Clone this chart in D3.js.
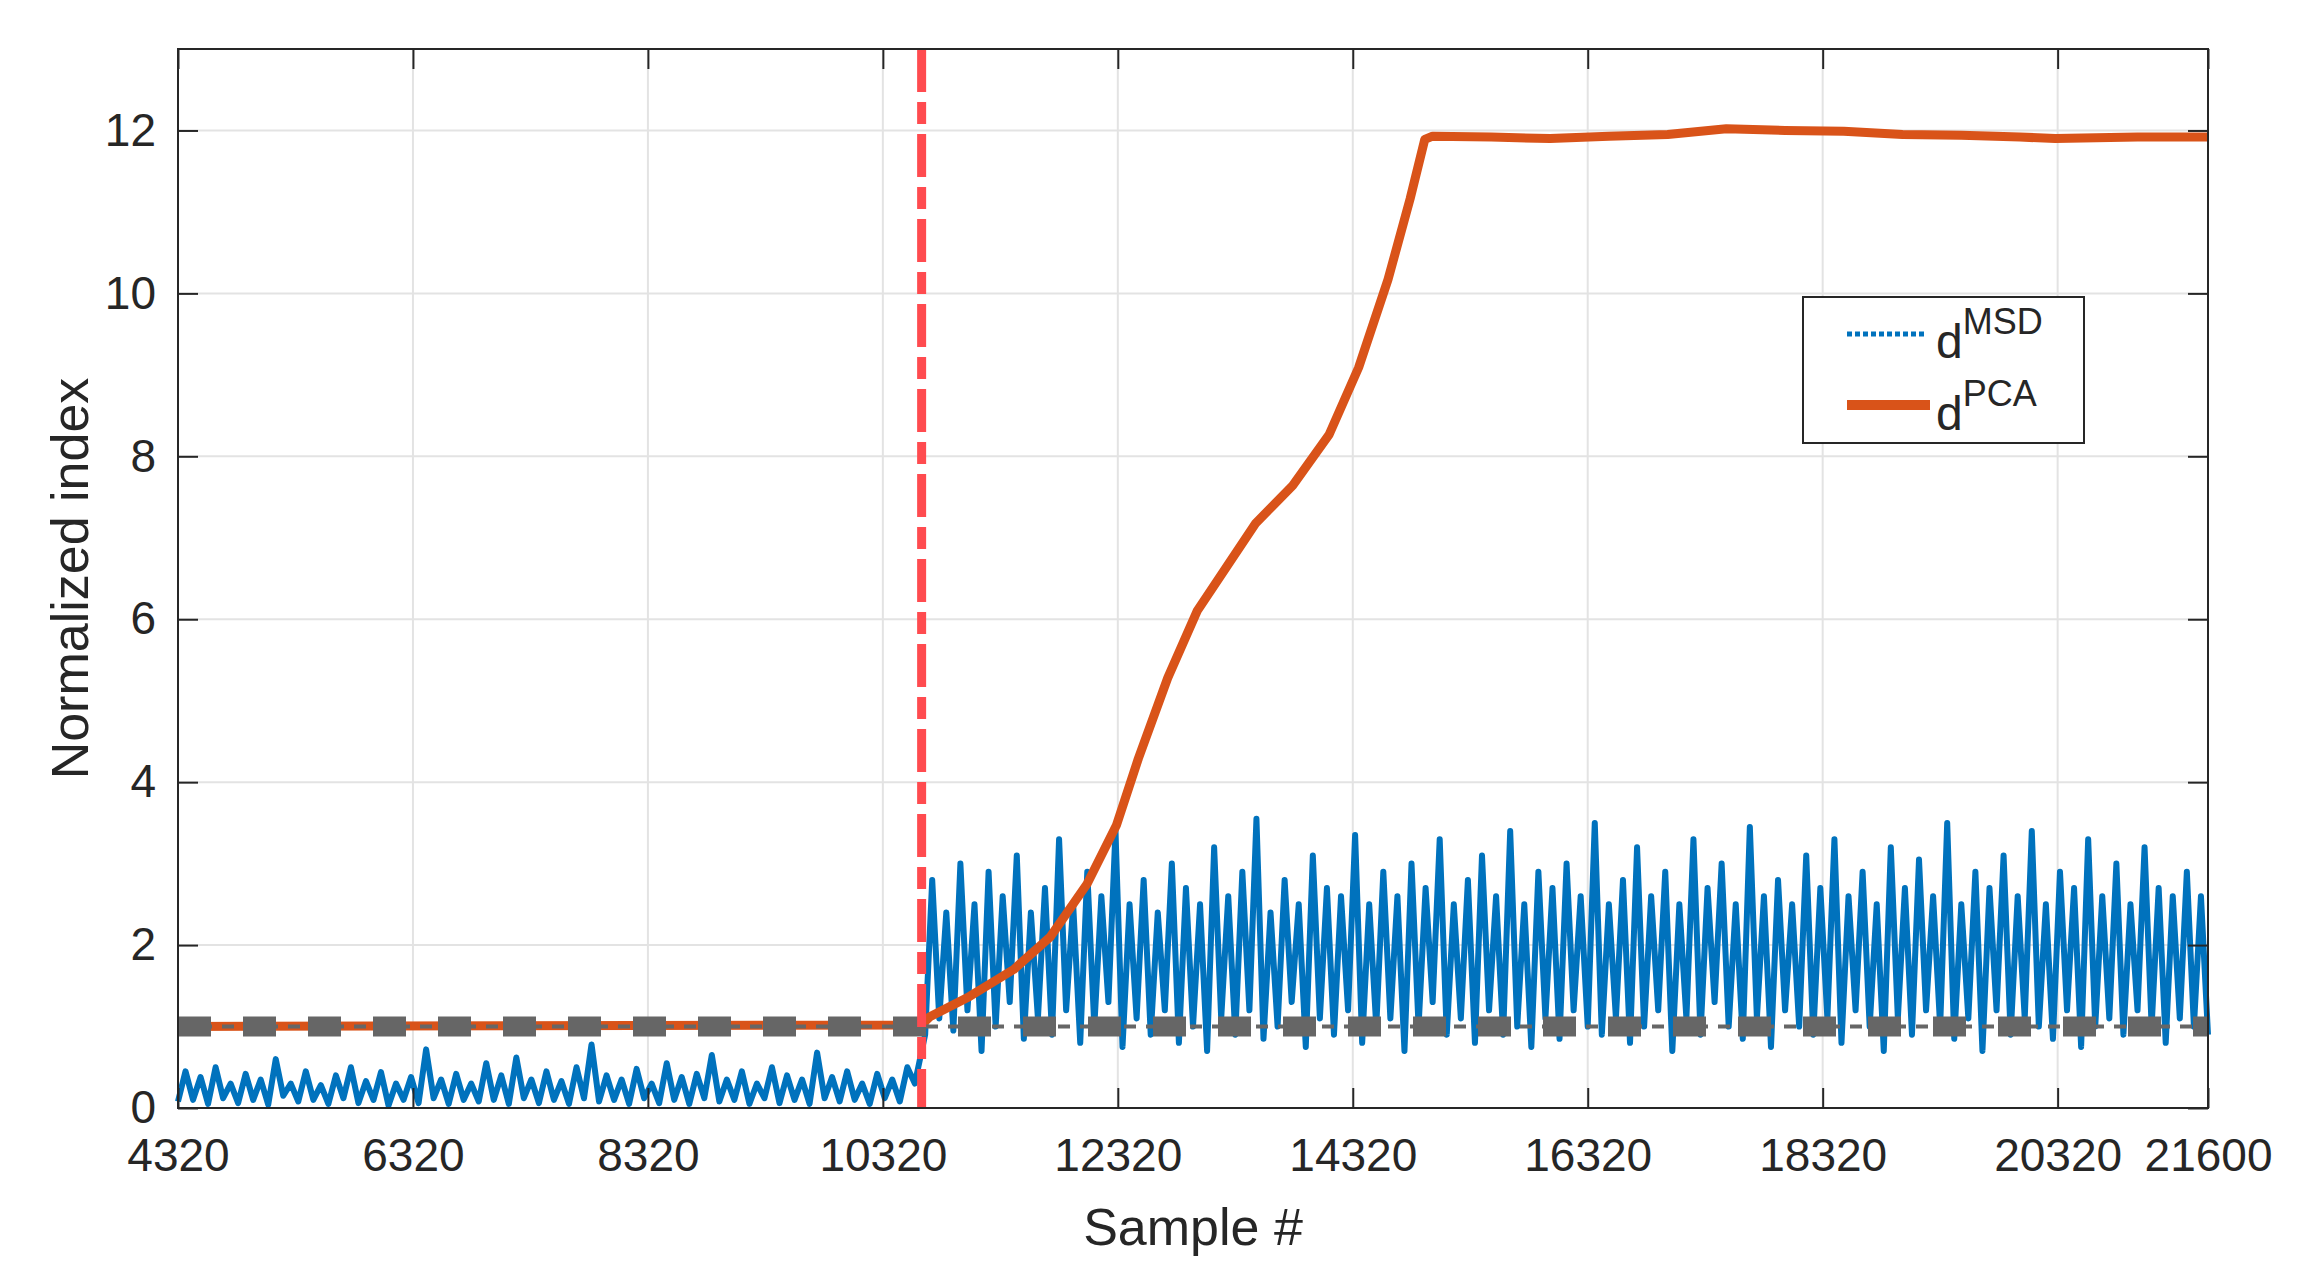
<!DOCTYPE html>
<html>
<head>
<meta charset="utf-8">
<script src="https://cdn.jsdelivr.net/npm/d3@7"></script>
<style>
  body { margin: 0; background: #fff; }
  text { font-family: "Liberation Sans", Arial, sans-serif; fill: #262626; }
</style>
</head>
<body>
<div id="chart"></div>
<script>
var width = 2304, height = 1273;
var margin = {top: 49, right: 96, bottom: 165, left: 178};

// tick labels
var xTicks = [4320, 6320, 8320, 10320, 12320, 14320, 16320, 18320, 20320, 21600];
var yTicks = [0, 2, 4, 6, 8, 10, 12];

// fault onset and threshold
var onset = 10650;
var threshold = 1.0;

// d^MSD before onset (step 64 from 4320)
var msdPre = [0.08,0.45,0.1,0.38,0.05,0.5,0.12,0.3,0.06,0.42,0.1,0.35,0.04,0.6,0.15,0.3,0.08,0.45,0.1,0.28,
  0.05,0.4,0.12,0.5,0.06,0.33,0.1,0.44,0.03,0.3,0.1,0.38,0.06,0.72,0.12,0.35,0.05,0.42,0.1,0.3,
  0.08,0.55,0.1,0.4,0.05,0.62,0.12,0.35,0.06,0.45,0.1,0.33,0.05,0.5,0.12,0.78,0.08,0.4,0.1,0.35,
  0.05,0.48,0.12,0.3,0.06,0.55,0.1,0.38,0.05,0.42,0.12,0.65,0.08,0.35,0.1,0.45,0.05,0.3,0.12,0.5,
  0.06,0.4,0.1,0.35,0.05,0.68,0.12,0.38,0.08,0.45,0.1,0.3,0.05,0.42,0.12,0.35,0.08,0.5,0.3];

// d^MSD after onset (step 60 from 10680)
var msdPost = [0.9,2.8,1.1,2.4,0.95,3.0,1.2,2.5,0.7,2.9,
  1.0,2.6,1.3,3.1,0.85,2.4,1.1,2.7,0.9,3.3,
  1.2,2.5,0.8,2.9,1.0,2.6,1.3,3.4,0.75,2.5,
  1.1,2.8,0.9,2.4,1.2,3.0,0.8,2.7,1.0,2.5,
  0.7,3.2,1.1,2.6,0.9,2.9,1.2,3.55,0.85,2.4,
  1.0,2.8,1.3,2.5,0.75,3.1,1.1,2.7,0.9,2.6,
  1.2,3.35,0.8,2.5,1.0,2.9,1.1,2.6,0.7,3.0,
  1.0,2.7,1.3,3.3,0.9,2.5,1.1,2.8,0.8,3.1,
  1.2,2.6,0.9,3.4,1.0,2.5,0.75,2.9,1.1,2.7,
  0.85,3.0,1.2,2.6,1.0,3.5,0.9,2.5,1.1,2.8,
  0.8,3.2,1.0,2.6,1.2,2.9,0.7,2.5,1.1,3.3,
  0.9,2.7,1.3,3.0,1.0,2.5,0.85,3.45,1.1,2.6,
  0.75,2.8,1.2,2.5,1.0,3.1,0.9,2.7,1.1,3.3,
  0.8,2.6,1.2,2.9,1.0,2.5,0.7,3.2,1.1,2.7,
  0.9,3.05,1.2,2.6,1.0,3.5,0.85,2.5,1.1,2.9,
  0.7,2.7,1.2,3.1,0.9,2.6,1.1,3.4,1.0,2.5,
  0.85,2.9,1.2,2.7,0.75,3.3,1.0,2.6,1.1,3.0,
  0.9,2.5,1.2,3.2,1.0,2.7,0.8,2.6,1.1,2.9,
  1.0,2.6,0.9];

// d^PCA
var pcaX = [4320, 10650, 10720, 11058, 11433, 11745, 12058, 12308, 12495, 12745, 12995, 13245, 13495, 13808,
  14120, 14370, 14620, 14808, 14933, 15000, 15500, 16000, 16500, 17000, 17500, 18000, 18500, 19000,
  19500, 20000, 20300, 21000, 21600];
var pcaY = [1.0, 1.02, 1.12, 1.37, 1.70, 2.10, 2.75, 3.47, 4.29, 5.28, 6.1, 6.64, 7.18, 7.64,
  8.27, 9.09, 10.17, 11.16, 11.89, 11.93, 11.92, 11.90, 11.93, 11.95, 12.02, 12.0, 11.99, 11.95,
  11.94, 11.92, 11.90, 11.92, 11.92];

var msd = msdPre.map(function(v, i) { return [4320 + i * 64, v]; })
  .concat(msdPost.map(function(v, i) { return [10680 + i * 60, v]; }));
var pca = pcaX.map(function(x, i) { return [x, pcaY[i]]; });

var iw = width - margin.left - margin.right,
    ih = 1108 - margin.top;

var svg = d3.select("#chart").append("svg")
    .attr("width", width).attr("height", height);
var g = svg.append("g").attr("transform", "translate(" + margin.left + "," + margin.top + ")");

var x = d3.scaleLinear().domain([4320, 21600]).range([0, iw]);
var y = d3.scaleLinear().domain([0, 13]).range([ih, 0]);

// grid
g.selectAll(".gx").data(xTicks).enter().append("line")
  .attr("x1", x).attr("x2", x).attr("y1", 0).attr("y2", ih)
  .attr("stroke", "#e3e3e3").attr("stroke-width", 2);
g.selectAll(".gy").data(yTicks).enter().append("line")
  .attr("y1", y).attr("y2", y).attr("x1", 0).attr("x2", iw)
  .attr("stroke", "#e3e3e3").attr("stroke-width", 2);

var line = d3.line().x(function(d) { return x(d[0]); }).y(function(d) { return y(d[1]); });

g.append("path").datum(msd).attr("d", line)
  .attr("fill", "none").attr("stroke", "#0072bd").attr("stroke-width", 6)
  .attr("stroke-linejoin", "round");

g.append("path").datum(pca).attr("d", line)
  .attr("fill", "none").attr("stroke", "#d95319").attr("stroke-width", 9)
  .attr("stroke-linejoin", "round");

// threshold
g.append("line").attr("x1", 0).attr("x2", iw).attr("y1", y(threshold)).attr("y2", y(threshold))
  .attr("stroke", "#666").attr("stroke-width", 4).attr("stroke-dasharray", "12,10");
g.append("line").attr("x1", 0).attr("x2", iw).attr("y1", y(threshold)).attr("y2", y(threshold))
  .attr("stroke", "#666").attr("stroke-width", 20).attr("stroke-dasharray", "33,32");

// onset
g.append("line").attr("x1", x(onset)).attr("x2", x(onset)).attr("y1", 0).attr("y2", ih)
  .attr("stroke", "#ff4b4f").attr("stroke-width", 9).attr("stroke-dasharray", "43,10,22,10");

// axes box
g.append("rect").attr("width", iw).attr("height", ih)
  .attr("fill", "none").attr("stroke", "#262626").attr("stroke-width", 2);

var xAxis = d3.axisBottom(x).tickValues(xTicks).tickSize(-20).tickPadding(30).tickFormat(d3.format("d"));
var yAxis = d3.axisLeft(y).tickValues(yTicks).tickSize(-20).tickPadding(22);
g.append("g").attr("transform", "translate(0," + ih + ")").call(xAxis)
  .call(function(a) { a.select(".domain").remove(); });
g.append("g").call(yAxis).call(function(a) { a.select(".domain").remove(); });
g.append("g").call(d3.axisTop(x).tickValues(xTicks).tickSize(-20).tickFormat(""))
  .call(function(a) { a.select(".domain").remove(); });
g.append("g").attr("transform", "translate(" + iw + ",0)")
  .call(d3.axisRight(y).tickValues(yTicks).tickSize(-20).tickFormat(""))
  .call(function(a) { a.select(".domain").remove(); });
g.selectAll(".tick line").attr("stroke", "#262626").attr("stroke-width", 2);
g.selectAll(".tick text").style("font-size", "46px").attr("fill", "#262626");

// axis labels
svg.append("text").attr("x", margin.left + iw / 2).attr("y", 1245)
  .attr("text-anchor", "middle").style("font-size", "52px").text("Sample #");
svg.append("text").attr("transform", "translate(88," + (margin.top + ih / 2) + ") rotate(-90)")
  .attr("text-anchor", "middle").style("font-size", "52px").text("Normalized index");

// legend
var lg = svg.append("g");
lg.append("rect").attr("x", 1803).attr("y", 297).attr("width", 281).attr("height", 146)
  .attr("fill", "#fff").attr("stroke", "#262626").attr("stroke-width", 2);
lg.append("line").attr("x1", 1847).attr("x2", 1927).attr("y1", 334).attr("y2", 334)
  .attr("stroke", "#0072bd").attr("stroke-width", 5).attr("stroke-dasharray", "5,3");
lg.append("line").attr("x1", 1847).attr("x2", 1930).attr("y1", 405).attr("y2", 405)
  .attr("stroke", "#d95319").attr("stroke-width", 10);
[["MSD", 358], ["PCA", 430]].forEach(function(d) {
  var t = lg.append("text").attr("x", 1936).attr("y", d[1]).style("font-size", "48px").attr("fill", "#000");
  t.append("tspan").text("d");
  t.append("tspan").attr("dy", -24).style("font-size", "36px").text(d[0]);
});
</script>
</body>
</html>
